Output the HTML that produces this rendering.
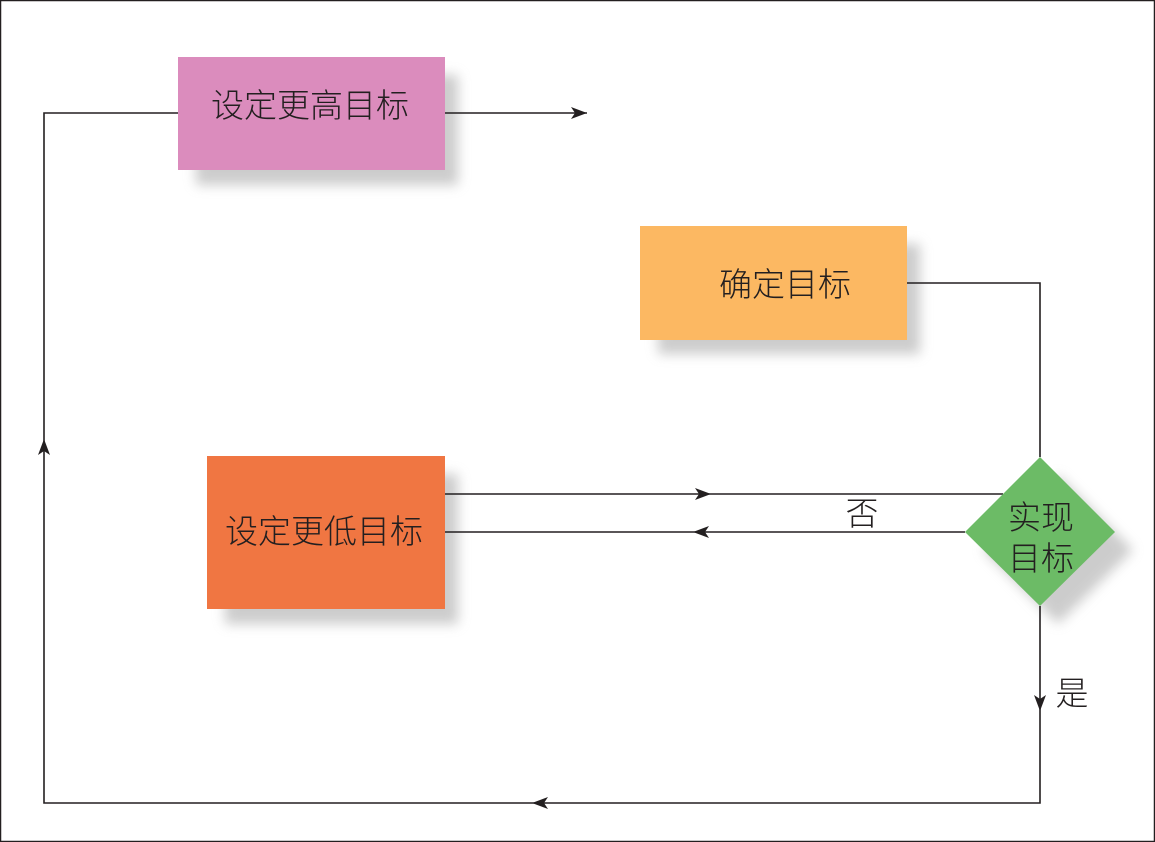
<!DOCTYPE html>
<html><head><meta charset="utf-8"><style>
html,body{margin:0;padding:0;background:#fff;}
svg{display:block;}
text{font-family:"Liberation Sans","Noto Sans CJK SC",sans-serif;fill:#231f20;font-weight:300;}
</style></head><body>
<svg width="1155" height="842" viewBox="0 0 1155 842" xmlns="http://www.w3.org/2000/svg">
<defs>
<filter id="sh" x="-20%" y="-20%" width="150%" height="150%"><feGaussianBlur stdDeviation="6"/></filter>
</defs>
<rect x="0.5" y="0.5" width="1154" height="841" fill="#fff" stroke="#231f20" stroke-width="1.5"/>
<rect x="196" y="75" width="262" height="110" fill="#9a9a9a" opacity="0.5" filter="url(#sh)"/>
<rect x="658" y="244" width="262" height="110" fill="#9a9a9a" opacity="0.5" filter="url(#sh)"/>
<rect x="225" y="474" width="233" height="150" fill="#9a9a9a" opacity="0.5" filter="url(#sh)"/>
<polygon points="1058,475 1133,550 1058,624 983,550" fill="#9a9a9a" opacity="0.5" filter="url(#sh)"/>
<g stroke="#231f20" stroke-width="1.6" fill="none">
<polyline points="178,113 44,113 44,803 1040,803 1040,606"/>
<line x1="445" y1="113" x2="587" y2="113"/>
<polyline points="907,283 1040,283 1040,457"/>
<line x1="445" y1="494" x2="1003" y2="494"/>
<line x1="965" y1="532" x2="445" y2="532"/>
</g>
<g fill="#231f20">
<path d="M587,113 l-16,-6 l4,6 l-4,6 z"/>
<path d="M44,439 l-6,16 l6,-4 l6,4 z"/>
<path d="M532,803 l16,-6 l-4,6 l4,6 z"/>
<path d="M1040,711 l-6,-16 l6,4 l6,-4 z"/>
<path d="M711,494 l-16,-6 l4,6 l-4,6 z"/>
<path d="M693,532 l16,-6 l-4,6 l4,6 z"/>
</g>
<rect x="178" y="57" width="267" height="113" fill="#db8cbd"/>
<rect x="640" y="226" width="267" height="114" fill="#fcb862"/>
<rect x="207" y="456" width="238" height="153" fill="#f07642"/>
<polygon points="1040,457 1115,532 1040,606 965,532" fill="#6cbb66"/>
<text x="310" y="117" font-size="33" text-anchor="middle">设定更高目标</text>
<text x="785" y="296" font-size="33" text-anchor="middle">确定目标</text>
<text x="324" y="543" font-size="33" text-anchor="middle">设定更低目标</text>
<text x="1041" y="529" font-size="33" text-anchor="middle">实现</text>
<text x="1041" y="570" font-size="33" text-anchor="middle">目标</text>
<text x="862" y="525" font-size="33" text-anchor="middle">否</text>
<text x="1072" y="705" font-size="33" text-anchor="middle">是</text>
</svg>
</body></html>
